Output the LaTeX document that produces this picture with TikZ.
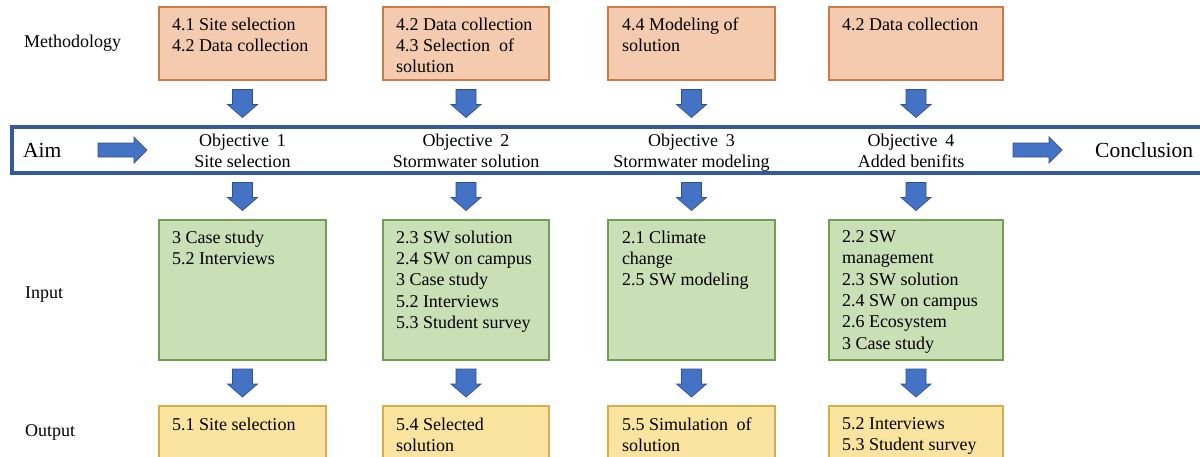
\documentclass[tikz,border=0pt]{standalone}
\usepackage{fontspec}
\setmainfont{Liberation Serif}
\usetikzlibrary{calc}
\definecolor{orfill}{HTML}{F4CBAE}
\definecolor{ordraw}{HTML}{CB7B46}
\definecolor{grfill}{HTML}{C9DFB6}
\definecolor{grdraw}{HTML}{739F52}
\definecolor{yefill}{HTML}{FBE49F}
\definecolor{yedraw}{HTML}{D8AC48}
\definecolor{arrowblue}{HTML}{4472C4}
\definecolor{arrowedge}{HTML}{2F528F}
\definecolor{bandblue}{HTML}{35599A}
\newcommand{\txtfont}{\fontsize{18}{21.3}\selectfont}
\newcommand{\bigfont}{\fontsize{21.5}{25}\selectfont}
\tikzset{
  boxbase/.style={rectangle, inner sep=0pt, outer sep=0pt, line width=1.4pt, anchor=north west},
  mbox/.style={boxbase, draw=ordraw, fill=orfill},
  ibox/.style={boxbase, draw=grdraw, fill=grfill},
  obox/.style={boxbase, draw=yedraw, fill=yefill},
  boxtext/.style={inner sep=0pt, outer sep=0pt, align=left, anchor=north west, font=\txtfont},
  objtext/.style={inner sep=0pt, outer sep=0pt, align=center, anchor=north, font=\txtfont},
  sidelabel/.style={inner sep=0pt, anchor=base west, font=\txtfont},
  biglabel/.style={inner sep=0pt, anchor=base west, font=\bigfont},
  bandbox/.style={rectangle, draw=bandblue, line width=3.2pt, fill=white, inner sep=0pt, outer sep=0pt, anchor=north west},
  downarrow/.pic={\path[fill=arrowblue, draw=arrowedge, line width=0.7pt]
     (-10,-14) -- (10,-14) -- (10,1) -- (15,1) -- (0,14) -- (-15,1) -- (-10,1) -- cycle;},
  rightarrow/.pic={\path[fill=arrowblue, draw=arrowedge, line width=0.7pt]
     (-24.5,-7) -- (11.5,-7) -- (11.5,-13) -- (24.5,0) -- (11.5,13) -- (11.5,7) -- (-24.5,7) -- cycle;}
}
\begin{document}
\begin{tikzpicture}[x=1pt,y=-1pt]
\useasboundingbox (0,0) rectangle (1200,456);
\clip (0,0) rectangle (1200,456);
\fill[white] (0,0) rectangle (1200,456);

% band
\node[bandbox, minimum width=1210pt, minimum height=46pt] (band) at (12,127) {};

% methodology boxes
\node[mbox, minimum width=167pt, minimum height=73pt] (m1) at (159,7) {};
\node[mbox, minimum width=166pt, minimum height=73pt] (m2) at (383,7) {};
\node[mbox, minimum width=167pt, minimum height=73pt] (m3) at (608,7) {};
\node[mbox, minimum width=174pt, minimum height=73pt] (m4) at (829,7) {};

% input boxes
\node[ibox, minimum width=167pt, minimum height=140pt] (i1) at (159,220) {};
\node[ibox, minimum width=166pt, minimum height=140pt] (i2) at (383,220) {};
\node[ibox, minimum width=167pt, minimum height=140pt] (i3) at (608,220) {};
\node[ibox, minimum width=174pt, minimum height=140pt] (i4) at (829,220) {};

% output boxes
\node[obox, minimum width=167pt, minimum height=80pt] (o1) at (159,406) {};
\node[obox, minimum width=166pt, minimum height=80pt] (o2) at (383,406) {};
\node[obox, minimum width=167pt, minimum height=80pt] (o3) at (608,406) {};
\node[obox, minimum width=174pt, minimum height=80pt] (o4) at (829,406) {};

% box texts
\node[boxtext] (m1t) at ($(m1.north west)+(13,10.7)$) {4.1 Site selection\\4.2 Data collection};
\node[boxtext] (m2t) at ($(m2.north west)+(13,10.7)$) {4.2 Data collection\\4.3 Selection\hspace{9pt}of\\solution};
\node[boxtext] (m3t) at ($(m3.north west)+(14,10.7)$) {4.4 Modeling of\\solution};
\node[boxtext] (m4t) at ($(m4.north west)+(13,10.7)$) {4.2 Data collection};

\node[boxtext] (i1t) at ($(i1.north west)+(13,10.7)$) {3 Case study\\5.2 Interviews};
\node[boxtext] (i2t) at ($(i2.north west)+(13,10.7)$) {2.3 SW solution\\2.4 SW on campus\\3 Case study\\5.2 Interviews\\5.3 Student survey};
\node[boxtext] (i3t) at ($(i3.north west)+(14,10.7)$) {2.1 Climate\\change\\2.5 SW modeling};
\node[boxtext] (i4t) at ($(i4.north west)+(13,10.7)$) {2.2 SW\\management\\2.3 SW solution\\2.4 SW on campus\\2.6 Ecosystem\\3 Case study};

\node[boxtext] (o1t) at ($(o1.north west)+(13,11.7)$) {5.1 Site selection};
\node[boxtext] (o2t) at ($(o2.north west)+(13,11.7)$) {5.4 Selected\\solution};
\node[boxtext] (o3t) at ($(o3.north west)+(14,11.7)$) {5.5 Simulation\hspace{8.5pt}of\\solution};
\node[boxtext] (o4t) at ($(o4.north west)+(13,11.7)$) {5.2 Interviews\\5.3 Student survey};

% objectives
\node[objtext] (ob1) at (242.5,134) {Objective\hspace{8pt}1\\Site selection};
\node[objtext] (ob2) at (466,134) {Objective\hspace{8pt}2\\Stormwater solution};
\node[objtext] (ob3) at (691.5,134) {Objective\hspace{8pt}3\\Stormwater modeling};
\node[objtext] (ob4) at (911,134) {Objective\hspace{8pt}4\\Added benifits};

% side labels
\node[sidelabel] (lmeth) at (24,47) {Methodology};
\node[sidelabel] (linp) at (25,298) {Input};
\node[sidelabel] (lout) at (25,436) {Output};
\node[biglabel] (laim) at (23,157) {Aim};
\node[biglabel] (lconc) at (1095,157) {Conclusion};

% block arrows
\foreach \k in {1,2,3,4}{
  \pic at ($(m\k.south)!0.5!(band.north -| m\k.south)$) {downarrow};
  \pic at ($(band.south -| i\k.north)!0.5!(i\k.north)$) {downarrow};
  \pic at ($(i\k.south)!0.5!(o\k.north)$) {downarrow};
}
\pic at (122.5,150) {rightarrow};
\pic at (1037.5,150) {rightarrow};
\end{tikzpicture}
\end{document}
